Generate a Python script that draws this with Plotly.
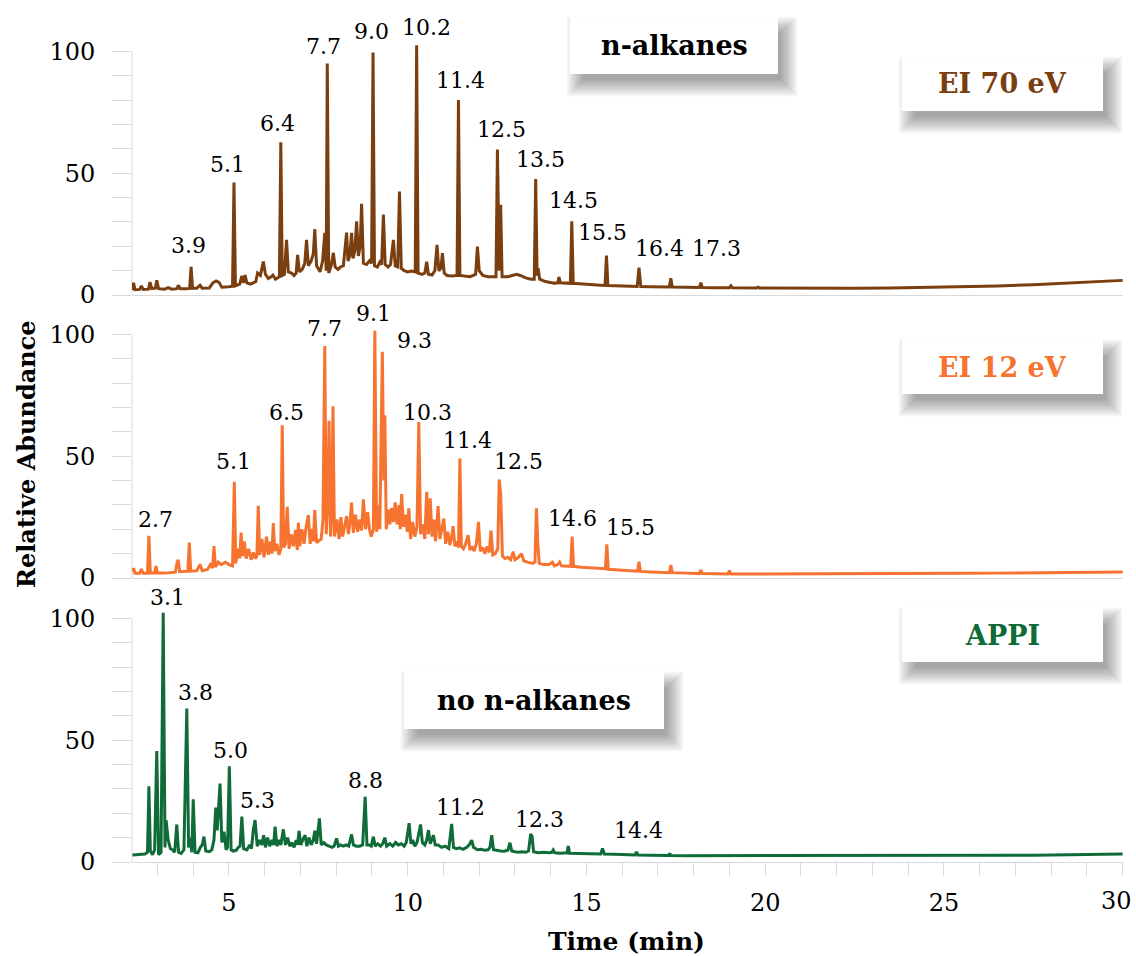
import plotly.graph_objects as go

# ---------------- data ----------------
ei70_time = [
    2.30, 2.33, 2.37, 2.50, 2.55, 2.60, 2.75, 2.79, 2.84, 2.94, 2.98, 3.03, 3.20, 3.30, 3.40,
    3.55, 3.58, 3.64, 3.80, 3.90, 3.94, 3.98, 4.10, 4.19, 4.25, 4.45, 4.55, 4.64, 4.72, 4.80,
    5.00, 5.10, 5.14, 5.18, 5.30, 5.36, 5.40, 5.45, 5.50, 5.60, 5.75, 5.80, 5.88, 5.96, 6.02,
    6.10, 6.18, 6.23, 6.30, 6.41, 6.45, 6.49, 6.55, 6.61, 6.66, 6.75, 6.82, 6.88, 6.92, 6.97,
    7.05, 7.12, 7.17, 7.22, 7.30, 7.36, 7.40, 7.45, 7.55, 7.62, 7.68, 7.72, 7.75, 7.79, 7.86,
    7.92, 7.97, 8.05, 8.12, 8.20, 8.24, 8.29, 8.33, 8.38, 8.43, 8.47, 8.52, 8.57, 8.62, 8.67,
    8.71, 8.76, 8.85, 8.93, 8.99, 9.03, 9.07, 9.15, 9.22, 9.27, 9.32, 9.37, 9.45, 9.52, 9.60,
    9.65, 9.72, 9.77, 9.82, 9.90, 10.00, 10.10, 10.21, 10.25, 10.29, 10.40, 10.48, 10.53, 10.58, 10.68,
    10.76, 10.82, 10.87, 10.93, 10.97, 11.02, 11.10, 11.25, 11.38, 11.42, 11.46, 11.60, 11.75, 11.90, 11.95,
    12.00, 12.10, 12.25, 12.40, 12.47, 12.51, 12.56, 12.60, 12.64, 12.80, 12.95, 13.05, 13.15, 13.30, 13.45,
    13.54, 13.58, 13.62, 13.65, 13.69, 13.85, 14.00, 14.10, 14.20, 14.23, 14.27, 14.45, 14.55, 14.59, 14.63,
    14.80, 15.00, 15.20, 15.40, 15.52, 15.56, 15.60, 15.80, 16.10, 16.42, 16.47, 16.52, 16.80, 17.10, 17.32,
    17.36, 17.40, 17.80, 18.16, 18.20, 18.24, 18.60, 19.00, 19.04, 19.08, 19.76, 19.80, 19.84, 20.5, 21.5,
    22.5, 23.5, 24.5, 25.5, 26.5, 27.5, 28.5, 29.3, 30.0,
]
ei70_abund = [
    2.0, 5.0, 2.2, 2.3, 3.7, 2.3, 2.4, 5.3, 2.6, 2.8, 6.0, 2.6, 2.4, 3.0, 2.4,
    2.6, 4.0, 2.6, 2.6, 2.7, 11.6, 2.8, 2.8, 4.0, 2.8, 2.9, 5.0, 5.8, 5.2, 3.2,
    3.4, 3.6, 46.2, 3.8, 4.5, 7.8, 5.0, 8.2, 5.0, 4.5, 5.5, 9.0, 8.0, 13.7, 8.5,
    6.8, 7.5, 8.2, 6.5, 7.5, 62.7, 8.0, 8.5, 22.6, 9.5, 9.0, 8.0, 9.0, 16.5, 9.5,
    10.5, 13.0, 22.6, 12.0, 14.0, 17.0, 27.0, 12.0, 9.5, 14.0, 25.5, 10.0, 95.0, 9.0, 12.0,
    17.3, 11.5, 10.5, 11.5, 12.0, 18.0, 25.6, 14.0, 16.0, 25.5, 15.0, 18.0, 30.2, 16.0, 20.0,
    37.4, 13.0, 12.5, 14.0, 13.0, 99.5, 12.0, 11.5, 13.5, 12.5, 33.0, 12.5, 11.5, 12.5, 22.6,
    12.0, 11.5, 42.5, 11.0, 10.0, 9.5, 9.8, 9.5, 102.5, 9.0, 8.5, 9.0, 13.7, 8.5, 8.2,
    10.0, 20.6, 10.0, 11.0, 17.2, 9.0, 8.0, 7.8, 8.0, 80.0, 8.0, 7.8, 7.5, 8.5, 19.9,
    10.0, 8.0, 7.5, 7.3, 7.5, 59.7, 10.0, 37.0, 7.5, 7.5, 8.0, 8.5, 8.0, 7.0, 6.5,
    6.5, 47.6, 8.0, 11.0, 6.5, 5.5, 5.0, 4.8, 5.0, 7.4, 5.0, 4.8, 4.8, 30.2, 4.8,
    4.6, 4.3, 4.2, 4.0, 3.9, 16.2, 3.9, 3.8, 3.6, 3.5, 11.2, 3.5, 3.4, 3.3, 3.3,
    6.9, 3.3, 3.2, 3.1, 5.1, 3.1, 3.0, 3.0, 3.8, 3.0, 2.9, 3.2, 2.9, 2.8, 2.8,
    2.8, 2.9, 3.1, 3.4, 3.7, 4.2, 4.8, 5.4, 6.0,
]

ei12_time = [
    2.30, 2.33, 2.37, 2.50, 2.55, 2.60, 2.72, 2.76, 2.80, 2.92, 2.96, 3.00, 3.20, 3.40, 3.50,
    3.55, 3.58, 3.62, 3.80, 3.85, 3.89, 3.93, 4.10, 4.19, 4.25, 4.40, 4.50, 4.54, 4.58, 4.62,
    4.70, 4.78, 4.90, 5.00, 5.10, 5.15, 5.19, 5.25, 5.30, 5.34, 5.38, 5.43, 5.48, 5.55, 5.62,
    5.68, 5.74, 5.78, 5.82, 5.86, 5.92, 5.98, 6.05, 6.10, 6.16, 6.20, 6.24, 6.28, 6.34, 6.40,
    6.45, 6.49, 6.53, 6.58, 6.63, 6.68, 6.74, 6.80, 6.86, 6.91, 6.94, 6.98, 7.04, 7.10, 7.16,
    7.22, 7.27, 7.32, 7.36, 7.40, 7.45, 7.52, 7.58, 7.63, 7.68, 7.72, 7.76, 7.80, 7.84, 7.87,
    7.91, 7.95, 8.02, 8.08, 8.13, 8.18, 8.24, 8.29, 8.34, 8.38, 8.43, 8.48, 8.54, 8.60, 8.66,
    8.71, 8.76, 8.82, 8.88, 8.93, 8.98, 9.04, 9.08, 9.13, 9.18, 9.22, 9.29, 9.33, 9.36, 9.40,
    9.46, 9.50, 9.55, 9.60, 9.65, 9.70, 9.76, 9.79, 9.83, 9.88, 9.93, 9.99, 10.03, 10.08, 10.14,
    10.20, 10.26, 10.31, 10.36, 10.42, 10.48, 10.53, 10.58, 10.63, 10.68, 10.73, 10.78, 10.85, 10.90, 10.96,
    11.01, 11.06, 11.12, 11.18, 11.23, 11.27, 11.32, 11.38, 11.42, 11.46, 11.50, 11.56, 11.62, 11.69, 11.74,
    11.80, 11.86, 11.92, 11.98, 12.03, 12.10, 12.16, 12.22, 12.28, 12.33, 12.38, 12.45, 12.52, 12.56, 12.60,
    12.65, 12.72, 12.80, 12.88, 12.95, 13.00, 13.10, 13.18, 13.25, 13.35, 13.50, 13.56, 13.60, 13.64, 13.68,
    13.80, 13.95, 14.05, 14.10, 14.20, 14.25, 14.30, 14.56, 14.60, 14.64, 14.85, 15.10, 15.35, 15.53, 15.57,
    15.61, 15.90, 16.20, 16.43, 16.47, 16.51, 16.80, 17.10, 17.32, 17.36, 17.40, 17.80, 18.16, 18.20, 18.24,
    18.60, 18.96, 19.00, 19.04, 19.5, 20.5, 21.5, 22.5, 23.5, 24.5, 25.5, 26.5, 27.5, 28.5, 29.3,
    30.0,
]
ei12_abund = [
    2.5, 4.0, 1.9, 1.9, 3.7, 1.9, 1.9, 17.3, 2.0, 2.0, 4.9, 2.0, 2.0, 2.2, 2.4,
    6.5, 7.4, 2.6, 2.6, 2.8, 14.5, 2.8, 3.0, 5.6, 3.0, 3.5, 6.0, 4.0, 13.1, 4.5,
    6.5, 5.5, 6.5, 5.5, 5.0, 39.5, 6.0, 12.0, 8.0, 18.6, 9.0, 15.0, 8.0, 12.0, 7.5,
    10.5, 8.0, 9.0, 29.6, 9.5, 16.0, 8.5, 17.0, 9.5, 15.0, 10.0, 22.5, 11.0, 14.0, 9.5,
    12.0, 62.7, 12.5, 14.0, 29.2, 12.0, 18.0, 13.0, 19.7, 11.5, 22.7, 13.0, 20.0, 14.0, 21.0,
    25.8, 14.0, 20.0, 15.0, 27.9, 14.5, 15.5, 16.0, 24.0, 95.2, 18.0, 30.0, 64.5, 17.0, 25.0,
    70.5, 17.0, 24.0, 16.0, 25.0, 17.0, 21.0, 25.4, 18.0, 22.0, 30.9, 18.5, 26.0, 19.0, 24.0,
    19.5, 32.3, 20.0, 27.0, 20.0, 17.0, 20.0, 101.4, 19.0, 30.0, 20.0, 92.8, 40.0, 66.8, 20.0,
    28.0, 22.0, 28.7, 23.0, 31.0, 22.0, 30.0, 20.0, 34.4, 21.0, 26.0, 19.0, 28.6, 16.0, 23.0,
    17.0, 21.0, 64.0, 18.0, 22.0, 16.0, 35.4, 18.0, 32.7, 17.0, 24.0, 15.0, 29.5, 16.0, 20.0,
    24.4, 14.0, 19.0, 13.5, 17.0, 21.3, 13.0, 15.0, 12.5, 49.0, 13.0, 12.0, 14.0, 17.6, 11.5,
    13.0, 11.0, 14.0, 23.0, 11.0, 12.5, 10.0, 13.0, 10.5, 19.4, 9.5, 10.0, 12.0, 40.4, 34.7,
    9.0, 8.0, 8.5, 7.5, 10.8, 7.5, 8.5, 10.0, 7.0, 6.5, 6.0, 6.5, 28.6, 14.0, 6.0,
    5.5, 5.5, 6.5, 5.0, 5.5, 6.5, 5.0, 4.8, 17.0, 4.8, 4.4, 4.2, 3.9, 3.8, 13.8,
    3.6, 3.3, 3.0, 2.8, 6.7, 2.7, 2.5, 2.3, 2.2, 5.3, 2.2, 2.0, 1.8, 3.3, 1.8,
    1.7, 1.6, 3.0, 1.6, 1.6, 1.6, 1.6, 1.7, 1.7, 1.8, 1.9, 2.0, 2.1, 2.3, 2.4,
    2.5,
]

appi_time = [
    2.30, 2.50, 2.65, 2.72, 2.76, 2.80, 2.86, 2.92, 2.98, 3.03, 3.10, 3.16, 3.21, 3.24, 3.30,
    3.36, 3.42, 3.48, 3.54, 3.59, 3.66, 3.74, 3.82, 3.87, 3.92, 3.96, 4.00, 4.05, 4.13, 4.20,
    4.25, 4.30, 4.35, 4.45, 4.52, 4.58, 4.63, 4.67, 4.75, 4.80, 4.86, 4.92, 4.96, 5.01, 5.06,
    5.12, 5.20, 5.26, 5.31, 5.36, 5.41, 5.50, 5.58, 5.63, 5.68, 5.73, 5.79, 5.86, 5.92, 5.97,
    6.02, 6.08, 6.14, 6.20, 6.25, 6.29, 6.34, 6.40, 6.45, 6.52, 6.58, 6.64, 6.70, 6.76, 6.82,
    6.88, 6.92, 6.96, 7.01, 7.06, 7.13, 7.18, 7.24, 7.30, 7.36, 7.40, 7.45, 7.53, 7.58, 7.65,
    7.72, 7.80, 7.88, 7.94, 8.01, 8.06, 8.12, 8.20, 8.28, 8.35, 8.43, 8.48, 8.56, 8.65, 8.74,
    8.81, 8.86, 8.92, 8.98, 9.04, 9.09, 9.16, 9.24, 9.30, 9.36, 9.41, 9.50, 9.58, 9.66, 9.74,
    9.82, 9.90, 9.96, 10.04, 10.09, 10.14, 10.20, 10.26, 10.36, 10.41, 10.48, 10.53, 10.58, 10.63, 10.72,
    10.77, 10.85, 10.95, 11.05, 11.15, 11.23, 11.28, 11.36, 11.45, 11.55, 11.65, 11.72, 11.79, 11.84, 11.95,
    12.05, 12.15, 12.25, 12.30, 12.35, 12.40, 12.50, 12.60, 12.70, 12.80, 12.86, 12.91, 13.00, 13.10, 13.20,
    13.30, 13.38, 13.44, 13.48, 13.52, 13.65, 13.80, 13.95, 14.03, 14.07, 14.11, 14.25, 14.40, 14.46, 14.49,
    14.53, 14.80, 15.10, 15.40, 15.45, 15.50, 15.80, 16.10, 16.36, 16.40, 16.44, 16.80, 17.10, 17.30, 17.33,
    17.36, 17.80, 18.50, 19.50, 20.50, 21.50, 22.50, 23.50, 24.50, 25.50, 26.50, 27.50, 28.50, 29.30, 30.00,
]
appi_abund = [
    2.9, 3.0, 3.3, 4.0, 31.1, 4.5, 3.0, 5.0, 45.5, 3.0, 4.0, 102.3, 6.0, 17.2, 9.0,
    5.5, 5.0, 4.0, 15.4, 4.0, 3.5, 5.0, 63.0, 6.0, 10.0, 4.0, 25.7, 4.0, 3.8, 6.0,
    7.0, 10.4, 4.5, 4.2, 5.0, 9.0, 22.3, 13.0, 32.2, 8.0, 12.4, 5.0, 6.0, 39.3, 5.0,
    4.5, 4.8, 6.0, 6.5, 18.6, 5.5, 5.0, 7.0, 5.5, 13.0, 17.2, 6.5, 9.0, 7.0, 11.0,
    6.0, 10.0, 6.5, 9.0, 7.0, 14.5, 6.5, 9.0, 7.0, 13.4, 7.0, 10.0, 6.5, 8.0, 6.0,
    9.0, 7.0, 12.8, 7.0, 9.0, 11.0, 6.5, 10.0, 7.0, 9.0, 12.8, 7.5, 17.9, 7.0, 8.0,
    7.0, 6.5, 6.0, 6.5, 9.7, 6.5, 7.0, 6.5, 7.0, 6.5, 11.3, 7.0, 6.5, 6.5, 7.0,
    26.8, 7.0, 7.0, 6.5, 10.4, 6.5, 7.5, 6.5, 7.5, 10.0, 6.5, 7.5, 6.5, 8.0, 7.0,
    7.5, 6.5, 8.0, 15.9, 7.5, 9.0, 6.5, 8.0, 15.4, 8.0, 7.0, 9.0, 13.1, 7.5, 11.0,
    7.0, 7.0, 6.0, 6.5, 5.5, 15.6, 6.0, 5.5, 5.8, 5.2, 6.0, 7.0, 9.0, 6.0, 5.0,
    5.2, 4.8, 5.0, 6.0, 11.0, 5.0, 4.6, 4.5, 4.4, 4.8, 7.9, 4.5, 4.2, 4.0, 4.2,
    4.0, 4.5, 11.5, 10.5, 4.2, 3.8, 4.0, 3.8, 4.0, 4.9, 3.8, 3.6, 3.7, 3.8, 6.6,
    3.6, 3.5, 3.4, 3.3, 5.6, 3.3, 3.2, 3.0, 2.9, 4.2, 2.9, 2.8, 2.7, 2.7, 3.5,
    2.7, 2.6, 2.6, 2.5, 2.5, 2.5, 2.5, 2.5, 2.5, 2.6, 2.7, 2.8, 3.0, 3.1, 3.3,
]

# peak labels: text, anchor time, anchor abundance
ei70_labels = ["3.9", "5.1", "6.4", "7.7", "9.0", "10.2", "11.4", "12.5", "13.5", "14.5", "15.5", "16.4", "17.3"]
ei70_label_t = [3.86, 4.97, 6.36, 7.64, 8.99, 10.53, 11.47, 12.63, 13.72, 14.64, 15.46, 17.05, 18.64]
ei70_label_v = [20.3, 53.5, 70.4, 102.0, 108.0, 109.6, 88.0, 67.9, 55.8, 38.8, 25.6, 19.0, 19.0]

ei12_labels = ["2.7", "5.1", "6.5", "7.7", "9.1", "9.3", "10.3", "11.4", "12.5", "14.6", "15.5"]
ei12_label_t = [2.95, 5.12, 6.61, 7.68, 9.04, 10.19, 10.54, 11.68, 13.10, 14.60, 16.24]
ei12_label_v = [24.2, 47.7, 68.0, 102.3, 108.5, 97.5, 68.0, 56.3, 47.7, 24.5, 20.8]

appi_labels = ["3.1", "3.8", "5.0", "5.3", "8.8", "11.2", "12.3", "14.4"]
appi_label_t = [3.29, 4.07, 5.03, 5.81, 8.82, 11.48, 13.70, 16.47]
appi_label_v = [108.6, 69.5, 45.9, 25.1, 33.6, 22.3, 17.6, 12.8]

panel_names = ["EI 70 eV", "EI 12 eV", "APPI"]
x_ticks = [5, 10, 15, 20, 25, 30]
y_ticks = [0, 50, 100]

# ---------------- styling / layout ----------------
BROWN = "#7A3E0F"
ORANGE = "#F6742F"
GREEN = "#0F6C38"
GREY = "#D9D9D9"
FONT = "DejaVu Serif"

W, H = 1136, 956
L, R, T, B = 132, 1123, 39, 862
UNIT = 2.437  # px per abundance unit
YMAX = 105
XMIN, XMAX = 2.287, 30.01


def pxx(px):
    return (px - L) / (R - L)


def pxy(py):
    return (B - py) / (B - T)


zero_px = [295, 578, 862]
domains = [[pxy(z), min(1.0, pxy(z - YMAX * UNIT))] for z in zero_px]

fig = go.Figure()
series = [(ei70_time, ei70_abund, BROWN), (ei12_time, ei12_abund, ORANGE), (appi_time, appi_abund, GREEN)]
for i, (tt, vv, col) in enumerate(series):
    fig.add_trace(go.Scatter(
        x=tt, y=vv, mode="lines", line=dict(color=col, width=3),
        xaxis="x" if i == 0 else f"x{i+1}", yaxis="y" if i == 0 else f"y{i+1}",
        showlegend=False, hoverinfo="skip"))

# last x tick label is drawn as an annotation so it is not cut at the page edge
x_ticktext = [str(v) for v in x_ticks[:-1]] + [""]

layout = dict(
    width=W, height=H, margin=dict(l=L, r=W - R, t=T, b=H - B, autoexpand=False),
    paper_bgcolor="white", plot_bgcolor="white",
    font=dict(family=FONT, size=24, color="black"),
    showlegend=False,
)
for i in range(3):
    xa = "xaxis" if i == 0 else f"xaxis{i+1}"
    ya = "yaxis" if i == 0 else f"yaxis{i+1}"
    yname = "y" if i == 0 else f"y{i+1}"
    bottom = i == 2
    layout[xa] = dict(
        domain=[0, 1], range=[XMIN, XMAX], anchor=yname,
        showline=True, linecolor=GREY, linewidth=1, showgrid=False, zeroline=False,
        tickvals=x_ticks if bottom else [], ticktext=x_ticktext if bottom else [],
        showticklabels=bottom,
        ticks="outside" if bottom else "", ticklen=13, tickcolor=GREY, tickwidth=1,
        minor=dict(ticks="outside" if bottom else "", dtick=1, tick0=0, ticklen=13,
                   tickcolor=GREY, tickwidth=1, showgrid=False),
        tickfont=dict(family=FONT, size=24, color="black"),
        ticklabelstandoff=6, ticklabeloverflow="allow", automargin=False,
    )
    if i != 0:
        layout[xa]["matches"] = "x"
    layout[ya] = dict(
        domain=domains[i], range=[0, YMAX], anchor="x" if i == 0 else f"x{i+1}",
        showline=False, showgrid=False, zeroline=False,
        tickvals=y_ticks, ticks="outside", ticklen=19, tickcolor=GREY, tickwidth=1,
        minor=dict(ticks="outside", dtick=10, tick0=0, ticklen=19, tickcolor=GREY,
                   tickwidth=1, showgrid=False),
        tickfont=dict(family=FONT, size=24, color="black"),
        ticklabelstandoff=12, automargin=False,
    )
fig.update_layout(**layout)

shapes = []
# vertical y-axis lines from 0 to 100
for i in range(3):
    xr = "x domain" if i == 0 else f"x{i+1} domain"
    yr = "y" if i == 0 else f"y{i+1}"
    shapes.append(dict(type="line", xref=xr, yref=yr, x0=0, x1=0, y0=0, y1=100,
                       line=dict(color=GREY, width=1), layer="below"))

annotations = []


def shadow_box(x0, y0, x1, y1, text, color):
    dx, dy = 8, 11
    for k in range(10):
        e = -5 + k * 1.8
        shapes.append(dict(type="rect", xref="paper", yref="paper",
                           x0=pxx(x0 + dx - e), x1=pxx(x1 + dx + e),
                           y0=pxy(y1 + dy + e), y1=pxy(y0 + dy - e),
                           line=dict(width=0), fillcolor="rgba(0,0,0,0.04)", layer="above"))
    shapes.append(dict(type="rect", xref="paper", yref="paper",
                       x0=pxx(x0), x1=pxx(x1), y0=pxy(y1), y1=pxy(y0),
                       line=dict(width=0), fillcolor="white", layer="above"))
    annotations.append(dict(xref="paper", yref="paper", x=pxx((x0 + x1) / 2), y=pxy((y0 + y1) / 2),
                            text=f"<b>{text}</b>", showarrow=False, xanchor="center", yanchor="middle",
                            font=dict(family=FONT, size=27, color=color)))


shadow_box(570, 17, 778, 74, "n-alkanes", "black")
shadow_box(902, 57, 1103, 111, panel_names[0], BROWN)
shadow_box(902, 340, 1103, 394, panel_names[1], ORANGE)
shadow_box(902, 608, 1103, 662, panel_names[2], GREEN)
shadow_box(404, 672, 664, 729, "no n-alkanes", "black")

# peak labels (positioned in paper space so labels above the axis range are still shown)
label_sets = [(ei70_labels, ei70_label_t, ei70_label_v, 0),
              (ei12_labels, ei12_label_t, ei12_label_v, 1),
              (appi_labels, appi_label_t, appi_label_v, 2)]
for labs, lt, lv, k in label_sets:
    d0, d1 = domains[k]
    for s, t, v in zip(labs, lt, lv):
        annotations.append(dict(xref="paper", yref="paper",
                                x=(t - XMIN) / (XMAX - XMIN), y=d0 + v / YMAX * (d1 - d0),
                                text=s, showarrow=False, xanchor="center", yanchor="middle",
                                font=dict(family=FONT, size=22, color="black")))

# last x tick label
annotations.append(dict(xref="paper", yref="paper", x=pxx(1116), y=pxy(901), text=str(x_ticks[-1]),
                        showarrow=False, xanchor="center", yanchor="middle",
                        font=dict(family=FONT, size=24, color="black")))

annotations.append(dict(xref="paper", yref="paper", x=pxx(626), y=pxy(941), text="<b>Time (min)</b>",
                        showarrow=False, xanchor="center", yanchor="middle",
                        font=dict(family=FONT, size=25, color="black")))
annotations.append(dict(xref="paper", yref="paper", x=pxx(26), y=pxy(454), text="<b>Relative Abundance</b>",
                        showarrow=False, xanchor="center", yanchor="middle", textangle=-90,
                        font=dict(family=FONT, size=24, color="black")))

fig.update_layout(shapes=shapes, annotations=annotations)
fig.write_html("out.html")
